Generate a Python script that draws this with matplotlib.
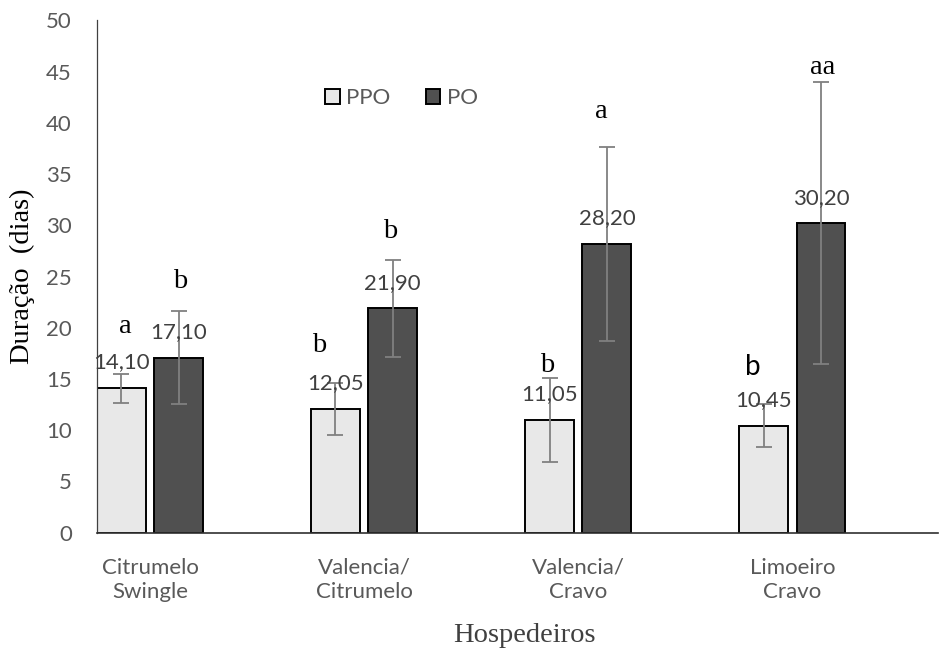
import numpy as np
import matplotlib
matplotlib.use('Agg')
import matplotlib.pyplot as plt

# data: duration (days) per host, two phases
hosts = ['Citrumelo\nSwingle', 'Valencia/\nCitrumelo', 'Valencia/\nCravo', 'Limoeiro\nCravo']
ppo = [14.10, 12.05, 11.05, 10.45]
po = [17.10, 21.90, 28.20, 30.20]
ppo_err = [1.40, 2.55, 4.10, 2.13]
po_err = [4.57, 4.70, 9.45, 13.76]

# significance letters and where they sit (x in category units, y = baseline)
letters = ['a', 'b', 'b', 'b', 'b', 'a', 'b', 'aa']
letter_x = [-0.117, 0.140, 0.789, 1.121, 1.853, 2.110, 2.815, 3.142]
letter_y = [19.5, 23.9, 17.6, 28.8, 15.7, 40.5, 15.4, 44.8]

sans = ['Lato', 'DejaVu Sans']
serif = ['Liberation Serif', 'DejaVu Serif']
tick_color = '#595959'
label_color = '#404040'
fs = 16

fig = plt.figure(figsize=(9.4, 6.48), dpi=100)
ax = fig.add_axes([97 / 940, 115.3 / 648, 841 / 940, 512.2 / 648])

x = np.arange(len(hosts))
w = 0.2285
off = 0.134
err_kw = dict(ecolor='#808080', elinewidth=1.3, capsize=5.8, capthick=1.3)
b1 = ax.bar(x - off, ppo, w, color='#E8E8E8', edgecolor='black', linewidth=1.4,
            yerr=ppo_err, error_kw=err_kw, label='PPO', zorder=2)
b2 = ax.bar(x + off, po, w, color='#505050', edgecolor='black', linewidth=1.4,
            yerr=po_err, error_kw=err_kw, label='PO', zorder=2)

# value labels above each bar
for bars, vals in [(b1, ppo), (b2, po)]:
    for rect, v in zip(bars, vals):
        ax.annotate(f'{v:.2f}'.replace('.', ','),
                    (rect.get_x() + rect.get_width() / 2, v),
                    xytext=(0, 18.5), textcoords='offset points',
                    ha='center', va='center', fontsize=fs,
                    color=label_color, family=sans, zorder=3)

for i, (t, lx, ly) in enumerate(zip(letters, letter_x, letter_y)):
    fam = sans if i == 6 else serif
    ax.text(lx, ly, t, ha='center', va='baseline', fontsize=20.5 if i != 6 else 20,
            color='black', family=fam)

ax.set_xlim((97 - 150) / 214.1, (938 - 150) / 214.1)
ax.set_ylim(0, 50)
ax.set_yticks(range(0, 51, 5))
ax.set_xticks(x)
ax.set_xticklabels(hosts, linespacing=1.3)
ax.tick_params(axis='both', length=0, labelsize=fs, labelcolor=tick_color)
ax.tick_params(axis='y', pad=18)
ax.tick_params(axis='x', pad=18)
for lab in ax.get_xticklabels() + ax.get_yticklabels():
    lab.set_family(sans)

for s in ['top', 'right']:
    ax.spines[s].set_visible(False)
ax.spines['left'].set_color('#404040')
ax.spines['left'].set_linewidth(0.9)
ax.spines['bottom'].set_color('#303030')
ax.spines['bottom'].set_linewidth(1.2)

leg = fig.legend(handles=[b1, b2], labels=['PPO', 'PO'], ncol=2, frameon=False,
                 loc='center left', bbox_to_anchor=(314 / 940, 1 - 98 / 648),
                 borderpad=0, handlelength=0.65, handleheight=0.65,
                 handletextpad=0.3, columnspacing=1.6,
                 prop={'family': sans, 'size': fs})
for t in leg.get_texts():
    t.set_color(tick_color)

fig.text(22 / 940, (115.3 + 512.2 / 2) / 648, 'Duração  (dias)', rotation=90,
         ha='center', va='center', fontsize=20.5, family=serif, color='black')
fig.text(524 / 940, 6 / 648, 'Hospedeiros', ha='center', va='baseline',
         fontsize=20.5, family=serif, color=label_color)

fig.savefig('out.png', dpi=100)
